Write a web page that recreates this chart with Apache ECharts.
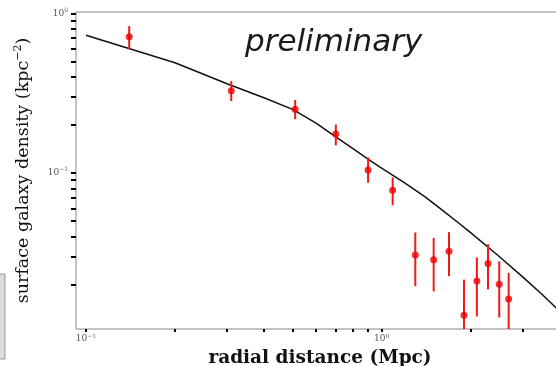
<!DOCTYPE html>
<html><head><meta charset="utf-8">
<script src="https://cdn.jsdelivr.net/npm/echarts@6/dist/echarts.min.js"></script>
<style>html,body{margin:0;padding:0;background:#fff}#c{width:556px;height:366px}</style>
</head><body><div id="c"></div>
<script>
// measured points (radial distance in Mpc, surface density)
const radius = [0.14, 0.31, 0.51, 0.70, 0.90, 1.09, 1.30, 1.50, 1.69, 1.90, 2.10, 2.29, 2.50, 2.69];
const density = [0.713, 0.327, 0.251, 0.175, 0.1044, 0.0779, 0.0306, 0.0285, 0.0323, 0.0128, 0.0210, 0.0270, 0.0200, 0.0162];
const errLow = [0.597, 0.282, 0.217, 0.149, 0.0866, 0.0627, 0.0195, 0.0181, 0.0225, 0.009, 0.0126, 0.0186, 0.0124, 0.009];
const errHigh = [0.832, 0.376, 0.286, 0.201, 0.125, 0.0936, 0.0423, 0.0391, 0.0425, 0.0214, 0.0295, 0.0357, 0.0279, 0.0236];
// model curve
const modelR = [0.1, 0.2, 0.3, 0.4, 0.5, 0.6, 0.7, 0.8, 0.9, 1.0, 1.2, 1.4, 1.6, 1.8, 2.0, 2.5, 3.0, 3.5, 4.0];
const modelD = [0.73, 0.49, 0.362, 0.296, 0.250, 0.205, 0.168, 0.142, 0.122, 0.107, 0.0863, 0.071, 0.0586, 0.0494, 0.0422, 0.0299, 0.0223, 0.0172, 0.0136];
// ticks
const xMajor = [0.1, 1];
const xTicks = [0.1, 0.2, 0.3, 0.4, 0.5, 0.6, 0.7, 0.8, 0.9, 1, 2, 3, 4];
const yMajor = [0.1, 1];
const yTicks = [0.02, 0.03, 0.04, 0.05, 0.06, 0.07, 0.08, 0.09, 0.1, 0.2, 0.3, 0.4, 0.5, 0.6, 0.7, 0.8, 0.9, 1];

const pts = radius.map((r, i) => [r, density[i]]);
const errs = radius.map((r, i) => [r, errLow[i], errHigh[i]]);
const model = modelR.map((r, i) => [r, modelD[i]]);

const expLabel = v => {
  const e = Math.round(Math.log10(v));
  return '{b|10}{s|' + (e < 0 ? '\u2212' + (-e) : e) + '}';
};
const tickRich = {
  b: { fontFamily: 'DejaVu Serif', fontSize: 9, color: '#555' },
  s: { fontFamily: 'DejaVu Serif', fontSize: 6, color: '#555', verticalAlign: 'bottom', padding: [0, 0, 6, 0] }
};

const chart = echarts.init(document.getElementById('c'), null, { renderer: 'canvas' });
chart.setOption({
  animation: false,
  backgroundColor: '#fff',
  grid: { left: 76, top: 12, width: 488, height: 317, show: true, borderColor: '#888', borderWidth: 1, containLabel: false, outerBoundsMode: 'none' },
  xAxis: {
    type: 'log', logBase: 10, min: 0.0925, max: 4.14,
    name: 'radial distance (Mpc)', nameLocation: 'middle', nameGap: 18,
    nameTextStyle: { fontFamily: 'DejaVu Serif', fontWeight: 'bold', fontSize: 18.5, color: '#111' },
    axisLine: { show: false },
    splitLine: { show: false },
    axisTick: { show: true, inside: false, length: 3, lineStyle: { color: '#000', width: 2 }, customValues: xTicks },
    axisLabel: { customValues: xMajor, formatter: expLabel, rich: tickRich, margin: 4 }
  },
  yAxis: {
    type: 'log', logBase: 10, min: 0.0105, max: 1.02,
    name: 'surface galaxy density (kpc{s|\u22122})', nameLocation: 'middle', nameGap: 43,
    nameTextStyle: { fontFamily: 'DejaVu Serif', fontSize: 17.5, color: '#111',
      rich: { s: { fontFamily: 'DejaVu Serif', fontSize: 11, color: '#111', verticalAlign: 'bottom', padding: [0, 0, 9, 0] } } },
    axisLine: { show: false },
    splitLine: { show: false },
    axisTick: { show: true, inside: false, length: 5, lineStyle: { color: '#000', width: 2 }, customValues: yTicks },
    axisLabel: { customValues: yMajor, formatter: expLabel, rich: tickRich, margin: 8 }
  },
  series: [
    {
      type: 'line', data: model, showSymbol: false, symbol: 'none', smooth: false,
      lineStyle: { color: '#111', width: 1.5 }, z: 2, clip: true
    },
    {
      type: 'custom', data: errs, z: 3,
      renderItem: function (params, api) {
        const x = api.value(0);
        const top = api.coord([x, api.value(2)]);
        const bot = api.coord([x, api.value(1)]);
        const cs = params.coordSys;
        const y1 = Math.max(top[1], cs.y);
        const y2 = Math.min(bot[1], cs.y + cs.height);
        return { type: 'line', shape: { x1: top[0], y1: y1, x2: bot[0], y2: y2 }, style: { stroke: '#f01818', lineWidth: 2 } };
      }
    },
    {
      type: 'scatter', data: pts, symbol: 'circle', symbolSize: 7, z: 4,
      itemStyle: { color: '#f00000' }
    }
  ],
  graphic: [
    { type: 'rect', shape: { x: -1, y: 274, width: 6, height: 85 }, style: { fill: '#dcdcdc', stroke: '#999', lineWidth: 1 } },
    { type: 'text', x: 245, y: 27, style: { text: 'preliminary', font: 'italic 31px "DejaVu Sans"', fill: '#1a1a1a', verticalAlign: 'top' } }
  ]
});
</script></body></html>
